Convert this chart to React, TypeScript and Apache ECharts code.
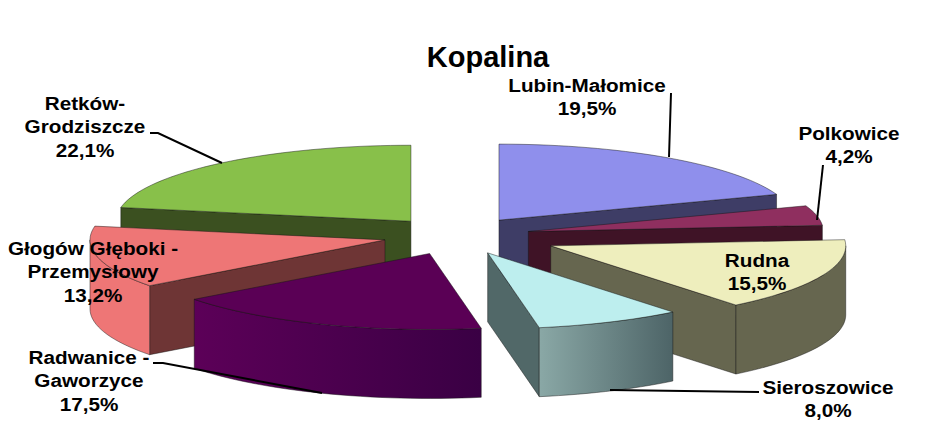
import React, { useEffect, useRef } from "react";
import * as echarts from "echarts";

// ---- data ----
const categories = ["Lubin-Małomice", "Polkowice", "Rudna", "Sieroszowice", "Radwanice - Gaworzyce", "Głogów Głęboki - Przemysłowy", "Retków-Grodziszcze"];
const shares = [19.5, 4.2, 15.5, 8.0, 17.5, 13.2, 22.1];
const labelLines = [["Lubin-Małomice"], ["Polkowice"], ["Rudna"], ["Sieroszowice"], ["Radwanice -", "Gaworzyce"], ["Głogów Głęboki -", "Przemysłowy"], ["Retków-", "Grodziszcze"]];
const explosions = [73, 73, 102, 74, 75, 74, 72];
const paintOrder = [0, 1, 2, 6, 5, 4, 3];

// ---- styles ----
const topColors = ["#8f8fec", "#8f2f5f", "#eeeebd", "#bdeeee", "#5a0055", "#ee7676", "#88c04a"];
const faceColors = ["#3e3d66", "#3f1326", "#66664f", "#516868", "#3a0044", "#6e3535", "#3b5020"];
const wallStops = [
  ["#3e3d66", "#3e3d66"],
  ["#3f1326", "#3f1326"],
  ["#66664f", "#66664f"],
  ["#8aa8a6", "#4d6467"],
  ["#5c0058", "#3a0044"],
  ["#ee7676", "#ee7676"],
  ["#3b5020", "#3b5020"],
];
const labelCenters = [[587, 85], [849, 133], [757, 260], [828, 387], [89, 357], [93, 248], [85, 103]];
const leaders = [
  [[671, 93], [669, 157]],
  [[823, 165], [817, 220]],
  [[759, 392], [610, 390]],
  [[153, 363], [163, 363], [322, 393]],
  [[150, 133], [158, 133], [222, 163]],
];

const CX = 457, CY = 235.5, RX = 295, RY = 76, DEPTH = 69;
const rad = (d: number) => (d * Math.PI) / 180;

const total = shares.reduce((a, b) => a + b, 0);
let running = 0;
const angles = shares.map((v) => {
  const start = (running / total) * 360;
  running += v;
  return { start, end: (running / total) * 360 };
});

function slicePieces(i: number) {
  const { start, end } = angles[i];
  const mid = (start + end) / 2;
  const ax = CX + explosions[i] * Math.sin(rad(mid));
  const ay = CY - (explosions[i] * RY / RX) * Math.cos(rad(mid));
  const rim = (deg: number, dy = 0): number[] => [ax + RX * Math.sin(rad(deg)), ay - RY * Math.cos(rad(deg)) + dy];
  const apex = [ax, ay];
  const apexLow = [ax, ay + DEPTH];
  const stroke = { stroke: "rgba(20,20,20,0.65)", lineWidth: 0.7, lineJoin: "round" };
  const poly = (points: number[][], fill: any) => ({ type: "polygon", shape: { points }, style: { fill, ...stroke } });
  const arc = (a: number, b: number, dy = 0) => {
    const n = Math.max(2, Math.ceil(Math.abs(b - a) / 2));
    const pts: number[][] = [];
    for (let k = 0; k <= n; k++) pts.push(rim(a + ((b - a) * k) / n, dy));
    return pts;
  };
  const children: any[] = [];
  if (end > 0 && end < 180) children.push(poly([apex, rim(end), rim(end, DEPTH), apexLow], faceColors[i]));
  if (start > 180 && start < 360) children.push(poly([apex, rim(start), rim(start, DEPTH), apexLow], faceColors[i]));
  const wa = Math.max(start, 90), wb = Math.min(end, 270);
  if (wb > wa) {
    children.push(
      poly([...arc(wa, wb), ...arc(wb, wa, DEPTH)], {
        type: "linear", x: 0, y: 0, x2: 1, y2: 0,
        colorStops: [{ offset: 0, color: wallStops[i][0] }, { offset: 1, color: wallStops[i][1] }],
      })
    );
  }
  children.push(poly([apex, ...arc(start, end)], topColors[i]));
  return children;
}

export default function App() {
  const ref = useRef<HTMLDivElement>(null);
  useEffect(() => {
    const chart = echarts.init(ref.current!, null, { renderer: "svg" });
    const font = '"Liberation Sans", Arial, sans-serif';
    const graphics: any[] = [];
    leaders.forEach((points) =>
      graphics.push({ type: "polyline", z: 50, shape: { points }, style: { stroke: "#000", lineWidth: 2, fill: "none" } })
    );
    categories.forEach((_, i) => {
      const lines = [...labelLines[i], shares[i].toFixed(1).replace(".", ",") + "%"];
      lines.forEach((t, k) =>
        graphics.push({
          type: "text", z: 60, x: labelCenters[i][0], y: labelCenters[i][1] + k * 23.5, scaleX: 1.09,
          style: { text: t, fill: "#000", font: `bold 19px ${font}`, textAlign: "center", textVerticalAlign: "middle" },
        })
      );
    });
    chart.setOption({
      animation: false,
      backgroundColor: "#fff",
      title: {
        text: "Kopalina", left: 483, top: 37, textAlign: "center",
        textStyle: { fontFamily: font, fontWeight: "bold", fontSize: 29, color: "#000" },
      },
      series: [
        {
          type: "custom",
          coordinateSystem: "none",
          silent: true,
          data: paintOrder.map((i) => ({ name: categories[i], value: shares[i] })),
          renderItem: (params: any) => ({ type: "group", children: slicePieces(paintOrder[params.dataIndex]) }),
        },
      ],
      graphic: graphics,
    });
    return () => chart.dispose();
  }, []);
  return <div ref={ref} style={{ position: "fixed", left: 0, top: 0, width: 925, height: 429 }} />;
}
